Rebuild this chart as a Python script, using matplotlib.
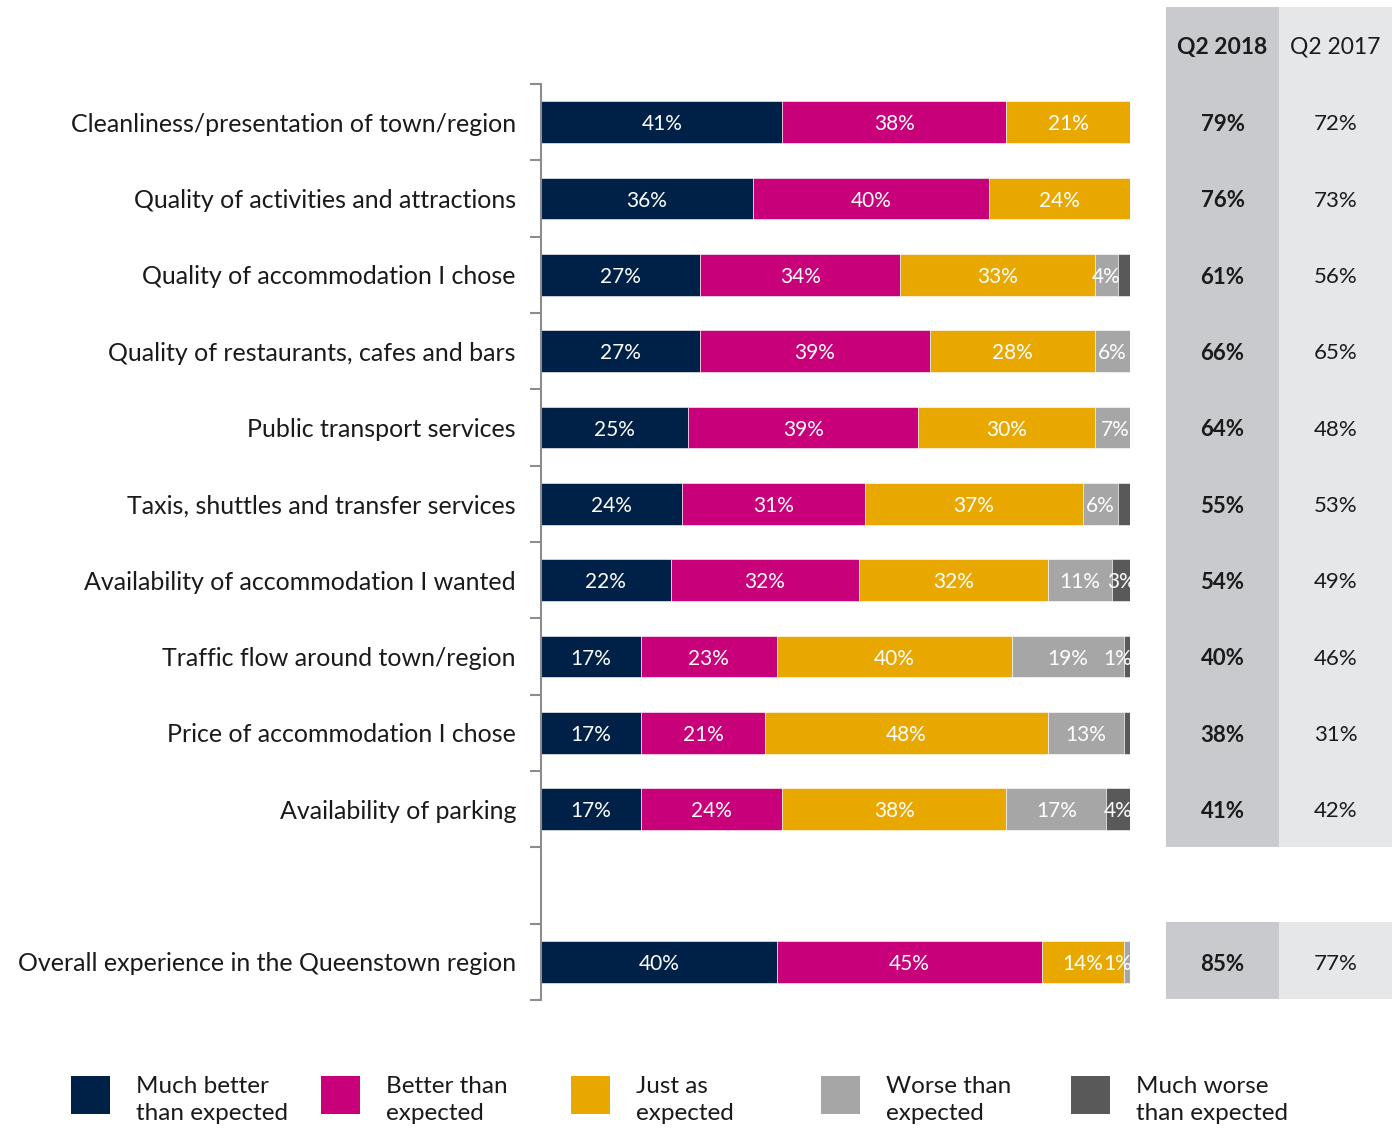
import matplotlib
import matplotlib.pyplot as plt
import numpy as np
from matplotlib.patches import Rectangle

matplotlib.use("Agg")

# -----------------------------
# Data
# -----------------------------
categories = [
    "Cleanliness/presentation of town/region",
    "Quality of activities and attractions",
    "Quality of accommodation I chose",
    "Quality of restaurants, cafes and bars",
    "Public transport services",
    "Taxis, shuttles and transfer services",
    "Availability of accommodation I wanted",
    "Traffic flow around town/region",
    "Price of accommodation I chose",
    "Availability of parking",
    "",
    "Overall experience in the Queenstown region",
]

much_better = [41, 36, 27, 27, 25, 24, 22, 17, 17, 17, 0, 40]
better = [38, 40, 34, 39, 39, 31, 32, 23, 21, 24, 0, 45]
just_as = [21, 24, 33, 28, 30, 37, 32, 40, 48, 38, 0, 14]
worse = [0, 0, 4, 6, 7, 6, 11, 19, 13, 17, 0, 1]
much_worse = [0, 0, 2, 0, 0, 2, 3, 1, 1, 4, 0, 0]
# tiny dark segments without a printed label
much_worse_shown = [False, False, False, False, False, False, True, True, False, True, False, False]

q2_2018 = [79, 76, 61, 66, 64, 55, 54, 40, 38, 41, None, 85]
q2_2017 = [72, 73, 56, 65, 48, 53, 49, 46, 31, 42, None, 77]

series_names = ["Much better\nthan expected", "Better than\nexpected", "Just as\nexpected",
                "Worse than\nexpected", "Much worse\nthan expected"]
colors = ["#002147", "#c8007a", "#e8a800", "#a6a6a6", "#595959"]

plt.rcParams["font.family"] = ["Lato", "DejaVu Sans"]

W, H = 1392, 1130
fig = plt.figure(figsize=(W / 100, H / 100), dpi=100)

# main bar axes (pixel box: x 541-1130, y 84-1000)
ax = fig.add_axes([541 / W, 1 - 1000 / H, 589 / W, 916 / H])

series = [much_better, better, just_as, worse, much_worse]
y = np.arange(len(categories))
left = np.zeros(len(categories))
for s_idx, vals in enumerate(series):
    vals = np.array(vals, dtype=float)
    ax.barh(y, vals, left=left, height=0.55, color=colors[s_idx],
            edgecolor="white", linewidth=0.4)
    for i, v in enumerate(vals):
        if v <= 0:
            continue
        if s_idx == 4 and not much_worse_shown[i]:
            continue
        cx = left[i] + v / 2
        if v <= 1.5:
            # too narrow to centre: push against the bar end
            ax.text(100.3, y[i] + 0.03, f"{int(v)}%", ha="right", va="center",
                    color="white", fontsize=15, clip_on=True)
        else:
            ax.text(cx, y[i] + 0.03, f"{int(v)}%", ha="center", va="center",
                    color="white", fontsize=15, clip_on=True)
    left += vals

ax.set_xlim(0, 100)
ax.set_ylim(len(categories) - 0.5, -0.5)
ax.set_xticks([])
ax.set_yticks(y)
ax.set_yticklabels(categories, fontsize=18, color="#1a1a1a")
ax.tick_params(axis="y", which="major", length=0, pad=18)
ax.set_yticks(np.arange(-0.5, len(categories)), minor=True)
ax.tick_params(axis="y", which="minor", length=8, width=1.5, color="#8c8c8c")
for side in ["top", "right", "bottom"]:
    ax.spines[side].set_visible(False)
ax.spines["left"].set_color("#8c8c8c")
ax.spines["left"].set_linewidth(1.5)

# comparison table (pixel box: x 1166-1392)
tab = fig.add_axes([1166 / W, 1 - 1000 / H, 226 / W, 916 / H])
tab.set_xlim(0, 2)
tab.set_ylim(len(categories) - 0.5, -0.5)
tab.axis("off")
col_colors = ["#c9cacd", "#e6e7e8"]
blocks = [(-1.51, 9.5), (10.48, 11.49)]
for c in range(2):
    for top, bottom in blocks:
        tab.add_patch(Rectangle((c, top), 1, bottom - top, facecolor=col_colors[c],
                                edgecolor="none", clip_on=False))
tab.text(0.5, -0.98, "Q2 2018", ha="center", va="center", fontsize=16.5,
         fontweight="bold", color="#1a1a1a")
tab.text(1.5, -0.98, "Q2 2017", ha="center", va="center", fontsize=16.5, color="#1a1a1a")
for i in range(len(categories)):
    if q2_2018[i] is None:
        continue
    tab.text(0.5, y[i] + 0.03, f"{q2_2018[i]}%", ha="center", va="center",
             fontsize=16, fontweight="bold", color="#1a1a1a")
    tab.text(1.5, y[i] + 0.03, f"{q2_2017[i]}%", ha="center", va="center",
             fontsize=16, color="#1a1a1a")

# legend along the bottom
for k, name in enumerate(series_names):
    x0 = 71 + 250 * k
    fig.patches.append(Rectangle((x0 / W, 1 - 1114 / H), 39 / W, 38 / H,
                                 facecolor=colors[k], edgecolor="none",
                                 transform=fig.transFigure, figure=fig))
    fig.text((x0 + 65) / W, 1 - 1100 / H, name, ha="left", va="center",
             fontsize=17.5, color="#1a1a1a", linespacing=1.3)

fig.savefig("out.png", dpi=100)
